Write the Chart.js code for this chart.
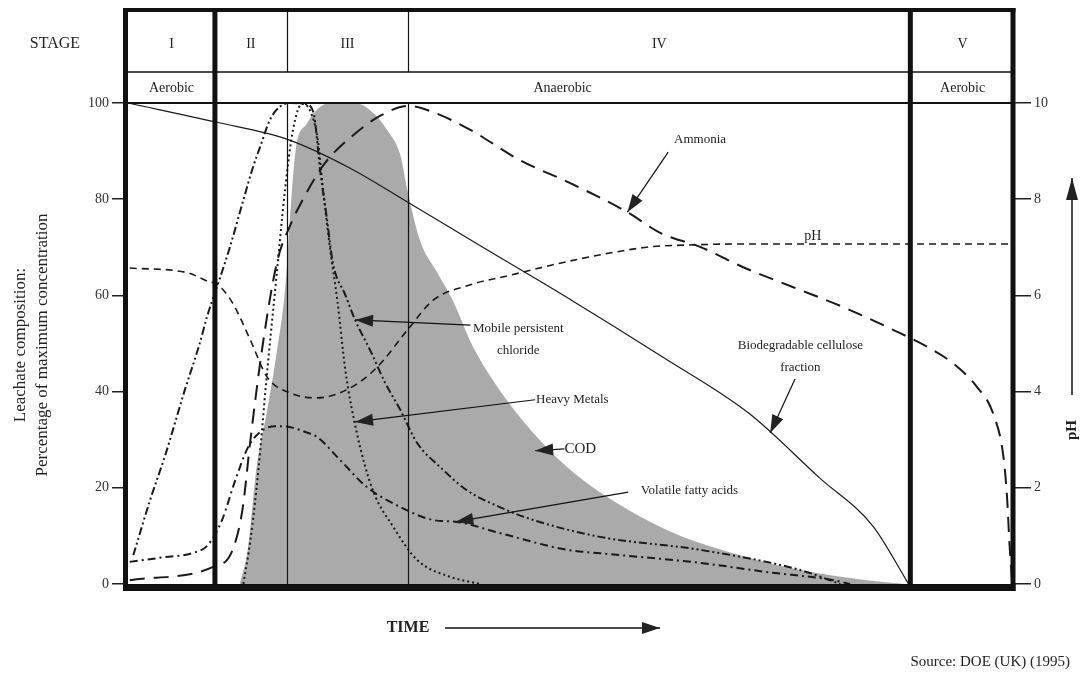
<!DOCTYPE html>
<html>
<head>
<meta charset="utf-8">
<script src="https://cdn.jsdelivr.net/npm/chart.js@4.4.0/dist/chart.umd.min.js"></script>
<style>
  html, body { margin: 0; padding: 0; background: #fff; }
  #wrap { width: 1084px; height: 675px; position: relative; }
</style>
</head>
<body>
<div id="wrap"><canvas id="leachate"></canvas></div>
<script>
// time runs 0..100 across the whole figure (no units on the original)
const stageNames = ['I', 'II', 'III', 'IV', 'V'];
const stageBounds = [0, 9.8, 17.9, 31.6, 88.2, 100];
const phaseNames = ['Aerobic', 'Anaerobic', 'Aerobic'];
const phaseBounds = [0, 9.8, 88.2, 100];

const leftTicks = [0, 20, 40, 60, 80, 100];
const rightTicks = [0, 2, 4, 6, 8, 10];

// Biodegradable cellulose fraction
const celluloseT = [0, 10, 17.9, 25, 31.6, 40, 50, 60, 70, 78, 84, 88];
const celluloseV = [100, 96, 92.5, 86.5, 79.3, 70, 59, 47.5, 35.5, 22, 12, 0];

// Ammonia
const ammoniaT = [0.2, 9.8, 11.7, 12.9, 13.8, 15.1, 16.8, 18.3, 20, 22.2, 25, 28.4, 31.6, 34.4, 38.6, 44.2, 49.8, 56.3, 60, 64.5, 69.3, 75, 80.6, 86.3, 90.1, 93, 95.7, 97.5, 98.7, 99.1, 99.4, 99.7];
const ammoniaV = [0.8, 3.7, 6.7, 15.4, 29.9, 48.6, 66.9, 74.6, 80.9, 87.5, 92.7, 97.3, 99.4, 98.1, 94.4, 88.1, 83.4, 77.3, 73, 70.1, 65.9, 61.7, 57.6, 52.8, 49.3, 45.9, 41, 35.6, 26.4, 18.1, 7.7, 0];

// pH (right axis)
const phT = [0.2, 6.7, 9.2, 10, 11.8, 13.8, 15.7, 18.3, 21.3, 25, 28.1, 31.5, 34.4, 38.6, 43.1, 48.7, 54.3, 58.9, 63.7, 69.3, 100];
const phV = [6.57, 6.47, 6.28, 6.24, 5.84, 5.07, 4.3, 3.97, 3.87, 4.07, 4.51, 5.28, 5.9, 6.22, 6.42, 6.67, 6.88, 7.01, 7.05, 7.07, 7.07];

// Mobile persistent chloride
const chlorideT = [0.6, 2.5, 4.2, 6.4, 8.1, 8.9, 10.4, 11.5, 13, 14.1, 14.9, 16, 17.1, 18.5, 20, 20.9, 21.7, 22.4, 23.1, 24.5, 25.6, 27.3, 29, 30.7, 32.6, 35.2, 38.2, 41.9, 45.7, 53.2, 64.5, 75.8, 80.3];
const chlorideV = [6, 17.5, 26.8, 40.3, 50.1, 55.5, 63.8, 70.1, 79.8, 86.7, 90.9, 96.5, 99.2, 100, 99.8, 98.1, 85.4, 76.3, 66.7, 60.1, 54.9, 48.6, 41.8, 36.2, 29.3, 24.3, 19.5, 16, 13.3, 9.8, 7.1, 2.9, 0];

// Heavy metals
const metalsT = [13, 13.8, 14.7, 15.6, 16.7, 17.7, 18.6, 19.6, 20.5, 21.4, 22, 22.8, 23.6, 24.5, 25.8, 27.6, 29.9, 32.6, 36.3, 39.7];
const metalsV = [0, 9.1, 23.7, 42.4, 63.2, 81.9, 94.4, 99.8, 98.5, 92.3, 81.9, 69.4, 59, 44.5, 31.4, 19.5, 11.9, 5, 1.5, 0];

// Volatile fatty acids
const vfaT = [0.2, 4.2, 7.2, 9, 10.6, 12.1, 13.5, 14.9, 16.6, 18.3, 20, 21.3, 23.9, 26.9, 30.7, 34.4, 37.1, 41.9, 49.5, 53.2, 64.5, 72, 79.5, 81.4];
const vfaV = [4.6, 5.6, 6.4, 8.1, 13.3, 21.6, 28.3, 31.6, 32.8, 32.6, 31.6, 30.6, 25.8, 20.2, 16, 13.3, 12.9, 10.6, 7.1, 6.4, 4.4, 2.5, 0.8, 0];

// COD (shaded)
const codT = [12.6, 13.5, 14.5, 15.7, 16.8, 17.7, 18.4, 18.9, 20.2, 21.4, 22.8, 25.6, 27.9, 29.2, 30.7, 31.5, 32.9, 34.8, 36.6, 38.9, 41.9, 45.7, 49.5, 53.2, 60.8, 68.2, 75.8, 83.3, 87.6];
const codV = [0, 7.1, 24.3, 36.2, 48.6, 61.1, 79.8, 90.2, 95.8, 98.8, 100, 100, 97.5, 94.4, 89.2, 81.9, 71.5, 64.9, 59, 49.3, 40.3, 31.4, 24.3, 19.1, 11.2, 6.4, 2.9, 0.8, 0];

// callouts: text lines, text centre (t, v), arrow start and arrow tip (t, v)
const callouts = [
    { text: ['Ammonia'], at: [64.5, 92.3], from: [60.9, 89.8], to: [56.3, 77.3] },
    { text: ['Mobile persistent', 'chloride'], at: [44.0, 53.2], from: [38.6, 53.8], to: [25.6, 54.9] },
    { text: ['Heavy Metals'], at: [50.1, 38.3], from: [45.9, 38.3], to: [25.6, 33.7] },
    { text: ['COD'], at: [51.0, 28.1], from: [49.2, 28.1], to: [45.9, 27.7], size: 15 },
    { text: ['Volatile fatty acids'], at: [63.3, 19.5], from: [56.4, 19.1], to: [36.9, 12.9] },
    { text: ['Biodegradable cellulose', 'fraction'], at: [75.8, 49.5], from: [75.2, 42.6], to: [72.4, 31.4] }
];

const FONT = '"Liberation Serif", "DejaVu Serif", "Times New Roman", serif';

function pts(ts, vs) {
    return ts.map((t, i) => ({ x: t, y: vs[i] }));
}

function arrow(ctx, x1, y1, x2, y2, len, wid) {
    ctx.beginPath();
    ctx.moveTo(x1, y1);
    ctx.lineTo(x2, y2);
    ctx.stroke();
    const a = Math.atan2(y2 - y1, x2 - x1);
    const bx = x2 - len * Math.cos(a), by = y2 - len * Math.sin(a);
    ctx.beginPath();
    ctx.moveTo(x2, y2);
    ctx.lineTo(bx + wid * Math.sin(a), by - wid * Math.cos(a));
    ctx.lineTo(bx - wid * Math.sin(a), by + wid * Math.cos(a));
    ctx.closePath();
    ctx.fill();
}

// header table, stage dividers, frame and all the hand-drawn labels
const stagePlugin = {
    id: 'stages',
    afterDatasetsDraw(chart) {
        const { ctx, chartArea: a, scales: { x, y } } = chart;
        const top = 10, mid = 72;
        ctx.save();
        ctx.strokeStyle = '#111';
        ctx.fillStyle = '#111';

        // thin dividers II/III and III/IV
        ctx.lineWidth = 1.2;
        [2, 3].forEach(i => {
            const px = Math.round(x.getPixelForValue(stageBounds[i])) + 0.5;
            ctx.beginPath();
            ctx.moveTo(px, top); ctx.lineTo(px, mid);
            ctx.moveTo(px, a.top); ctx.lineTo(px, a.bottom);
            ctx.stroke();
        });

        // horizontal rules
        ctx.lineWidth = 1.5;
        ctx.beginPath();
        ctx.moveTo(a.left, mid); ctx.lineTo(a.right, mid);
        ctx.stroke();
        ctx.lineWidth = 1.8;
        ctx.beginPath();
        ctx.moveTo(a.left, a.top); ctx.lineTo(a.right, a.top);
        ctx.stroke();

        // thick lines: outer frame and I/II, IV/V
        ctx.lineWidth = 5;
        [1, 4].forEach(i => {
            const px = x.getPixelForValue(stageBounds[i]);
            ctx.beginPath();
            ctx.moveTo(px, top - 2); ctx.lineTo(px, a.bottom + 3);
            ctx.stroke();
        });
        ctx.beginPath();
        ctx.moveTo(a.left - 2.5, top - 2); ctx.lineTo(a.left - 2.5, a.bottom + 7);
        ctx.moveTo(a.right - 2, top - 2); ctx.lineTo(a.right - 2, a.bottom + 7);
        ctx.stroke();
        ctx.lineWidth = 4;
        ctx.beginPath();
        ctx.moveTo(a.left - 5, top); ctx.lineTo(a.right + 0.5, top);
        ctx.stroke();
        ctx.lineWidth = 7;
        ctx.beginPath();
        ctx.moveTo(a.left - 5, a.bottom + 3.5); ctx.lineTo(a.right + 0.5, a.bottom + 3.5);
        ctx.stroke();

        // header text
        ctx.textBaseline = 'middle';
        ctx.textAlign = 'center';
        ctx.fillStyle = '#222';
        ctx.font = '16px ' + FONT;
        ctx.fillText('STAGE', 55, 44);
        ctx.font = '14px ' + FONT;
        stageNames.forEach((s, i) => {
            const cx = (x.getPixelForValue(stageBounds[i]) + x.getPixelForValue(stageBounds[i + 1])) / 2;
            ctx.fillText(s, cx, 44);
        });
        phaseNames.forEach((s, i) => {
            const cx = (x.getPixelForValue(phaseBounds[i]) + x.getPixelForValue(phaseBounds[i + 1])) / 2;
            ctx.fillText(s, cx, 88);
        });

        // callouts
        ctx.lineWidth = 1.2;
        callouts.forEach(c => {
            ctx.font = (c.size || 13) + 'px ' + FONT;
            const tx = x.getPixelForValue(c.at[0]), ty = y.getPixelForValue(c.at[1]);
            c.text.forEach((line, k) => ctx.fillText(line, tx, ty + k * 22));
            arrow(ctx, x.getPixelForValue(c.from[0]), y.getPixelForValue(c.from[1]),
                x.getPixelForValue(c.to[0]), y.getPixelForValue(c.to[1]), 18, 6);
        });
        ctx.font = '14px ' + FONT;
        ctx.fillText('pH', x.getPixelForValue(77.2), y.getPixelForValue(72.2));

        // left axis title
        ctx.save();
        ctx.translate(21, 345);
        ctx.rotate(-Math.PI / 2);
        ctx.font = '17px ' + FONT;
        ctx.fillText('Leachate composition:', 0, 0);
        ctx.fillText('Percentage of maximum concentration', 0, 22);
        ctx.restore();

        // right axis title with arrow
        ctx.lineWidth = 1.5;
        arrow(ctx, 1072, 395, 1072, 178, 22, 6);
        ctx.save();
        ctx.translate(1072, 430);
        ctx.rotate(-Math.PI / 2);
        ctx.font = 'bold 15px ' + FONT;
        ctx.fillText('pH', 0, 0);
        ctx.restore();

        // time arrow and source
        ctx.font = 'bold 16px ' + FONT;
        ctx.fillText('TIME', 408, 628);
        ctx.lineWidth = 1.5;
        arrow(ctx, 445, 628, 660, 628, 18, 6);
        ctx.textAlign = 'right';
        ctx.font = '15px ' + FONT;
        ctx.fillText('Source: DOE (UK) (1995)', 1070, 662);

        ctx.restore();
    }
};

const lineBase = {
    pointRadius: 0,
    fill: false,
    borderColor: '#1a1a1a',
    cubicInterpolationMode: 'monotone'
};

new Chart(document.getElementById('leachate'), {
    type: 'line',
    data: {
        datasets: [
            { ...lineBase, label: 'Biodegradable cellulose fraction', data: pts(celluloseT, celluloseV), borderWidth: 1.2 },
            { ...lineBase, label: 'Ammonia', data: pts(ammoniaT, ammoniaV), borderWidth: 2, borderDash: [15, 9] },
            { ...lineBase, label: 'pH', data: pts(phT, phV), yAxisID: 'yR', borderWidth: 1.6, borderDash: [7, 5] },
            { ...lineBase, label: 'Mobile persistent chloride', data: pts(chlorideT, chlorideV), borderWidth: 2, borderDash: [8, 3, 2, 3, 2, 3] },
            { ...lineBase, label: 'Heavy Metals', data: pts(metalsT, metalsV), borderWidth: 2, borderDash: [2, 3] },
            { ...lineBase, label: 'Volatile fatty acids', data: pts(vfaT, vfaV), borderWidth: 2, borderDash: [8, 4, 2, 4] },
            { ...lineBase, label: 'COD', data: pts(codT, codV), borderWidth: 0, borderColor: '#aaaaaa', backgroundColor: '#aaaaaa', fill: 'origin' }
        ]
    },
    options: {
        responsive: true,
        maintainAspectRatio: false,
        animation: false,
        layout: { padding: { top: 103, bottom: 91, left: 0, right: 0 } },
        plugins: {
            legend: { display: false },
            tooltip: { enabled: false }
        },
        scales: {
            x: { type: 'linear', min: 0, max: 100, display: false },
            y: {
                position: 'left',
                min: 0, max: 100,
                afterBuildTicks: s => { s.ticks = leftTicks.map(v => ({ value: v })); },
                afterFit: s => { s.width = 128; },
                ticks: { font: { family: FONT, size: 14 }, color: '#333', padding: 3 },
                grid: { drawOnChartArea: false, tickLength: 16, color: '#222', lineWidth: 1.5 },
                border: { display: false }
            },
            yR: {
                position: 'right',
                min: 0, max: 10,
                afterBuildTicks: s => { s.ticks = rightTicks.map(v => ({ value: v })); },
                afterFit: s => { s.width = 69; },
                ticks: { font: { family: FONT, size: 14 }, color: '#333', padding: 3 },
                grid: { drawOnChartArea: false, tickLength: 16, color: '#222', lineWidth: 1.5 },
                border: { display: false }
            }
        }
    },
    plugins: [stagePlugin]
});
</script>
</body>
</html>
